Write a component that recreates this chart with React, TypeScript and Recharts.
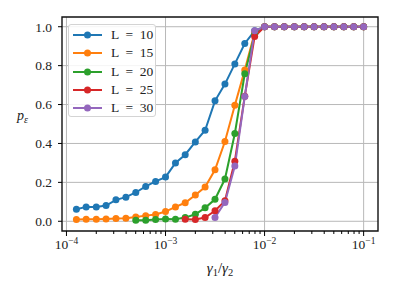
import React from 'react';
import { LineChart, Line, XAxis, YAxis, CartesianGrid, ReferenceArea, Legend } from 'recharts';

// gamma1/gamma2 sample points (log-spaced, 0.1 decade)
const RATIOS = [
  1.26e-4, 1.58e-4, 2.0e-4, 2.51e-4, 3.16e-4, 3.98e-4, 5.01e-4, 6.31e-4, 7.94e-4, 1.0e-3,
  1.26e-3, 1.58e-3, 2.0e-3, 2.51e-3, 3.16e-3, 3.98e-3, 5.01e-3, 6.31e-3, 7.94e-3, 1.0e-2,
  1.26e-2, 1.58e-2, 2.0e-2, 2.51e-2, 3.16e-2, 3.98e-2, 5.01e-2, 6.31e-2, 7.94e-2, 1.0e-1,
];

const L10 = [
  0.062, 0.074, 0.074, 0.081, 0.11, 0.124, 0.148, 0.179, 0.205, 0.227,
  0.3, 0.342, 0.408, 0.468, 0.619, 0.705, 0.809, 0.914, 0.979, 1,
  1, 1, 1, 1, 1, 1, 1, 1, 1, 1,
];
const L15 = [
  0.009, 0.01, 0.01, 0.012, 0.014, 0.015, 0.022, 0.029, 0.035, 0.05,
  0.074, 0.095, 0.135, 0.176, 0.265, 0.41, 0.596, 0.777, 0.97, 1,
  1, 1, 1, 1, 1, 1, 1, 1, 1, 1,
];
const L20 = [
  null, null, null, null, null, null, 0.005, 0.005, 0.009, 0.012,
  0.01, 0.019, 0.036, 0.069, 0.113, 0.217, 0.451, 0.758, 0.96, 1,
  1, 1, 1, 1, 1, 1, 1, 1, 1, 1,
];
const L25 = [
  null, null, null, null, null, null, null, null, null, null,
  null, 0.01, 0.009, 0.019, 0.054, 0.105, 0.309, 0.643, 0.95, 1,
  1, 1, 1, 1, 1, 1, 1, 1, 1, 1,
];
const L30 = [
  null, null, null, null, null, null, null, null, null, null,
  null, null, null, null, 0.02, 0.097, 0.284, 0.641, 0.979, 1,
  1, 1, 1, 1, 1, 1, 1, 1, 1, 1,
];

const SERIES = [
  { key: 'L10', name: 'L = 10', color: '#1f77b4', values: L10 },
  { key: 'L15', name: 'L = 15', color: '#ff7f0e', values: L15 },
  { key: 'L20', name: 'L = 20', color: '#2ca02c', values: L20 },
  { key: 'L25', name: 'L = 25', color: '#d62728', values: L25 },
  { key: 'L30', name: 'L = 30', color: '#9467bd', values: L30 },
];

const MAJOR_X = [1e-4, 1e-3, 1e-2, 1e-1];
const EXPONENTS = ['−4', '−3', '−2', '−1'];
const MINOR_X = [
  2e-4, 3e-4, 4e-4, 5e-4, 6e-4, 7e-4, 8e-4, 9e-4,
  2e-3, 3e-3, 4e-3, 5e-3, 6e-3, 7e-3, 8e-3, 9e-3,
  2e-2, 3e-2, 4e-2, 5e-2, 6e-2, 7e-2, 8e-2, 9e-2,
];
const Y_TICKS = [0, 0.2, 0.4, 0.6, 0.8, 1.0];

const X_DOMAIN = [9.016e-5, 0.13964];
const Y_DOMAIN = [-0.05, 1.05];

const FONT = '"Liberation Serif", "DejaVu Serif", serif';

const data = RATIOS.map((x, i) => {
  const row: Record<string, number | null> = { x };
  SERIES.forEach(s => { row[s.key] = s.values[i]; });
  return row;
});

const XTick = (props: any) => {
  const { x, y, payload } = props;
  const idx = MAJOR_X.indexOf(payload.value);
  const major = idx >= 0;
  return (
    <g>
      <line x1={x} x2={x} y1={y} y2={y + (major ? 5 : 3)} stroke="#000" strokeWidth={1} />
      {major && (
        <text x={x} y={y + 18} textAnchor="middle" fontFamily={FONT} fontSize={13.5} fill="#222">
          <tspan>10</tspan>
          <tspan dy={-5} fontSize={9.5}>{EXPONENTS[idx]}</tspan>
        </text>
      )}
    </g>
  );
};

const LegendBox = () => (
  <div
    style={{
      width: 88,
      height: 93,
      boxSizing: 'border-box',
      border: '1px solid #d4d4d4',
      borderRadius: 3,
      background: 'rgba(255,255,255,0.85)',
      paddingTop: 1,
    }}
  >
    {SERIES.map(s => (
      <div key={s.key} style={{ height: 18.3, position: 'relative' }}>
        <svg width={34} height={18} style={{ position: 'absolute', left: 0, top: 0 }}>
          <line x1={4} x2={33} y1={9} y2={9} stroke={s.color} strokeWidth={2} />
          <circle cx={18.5} cy={9} r={3.5} fill={s.color} />
        </svg>
        <span
          style={{
            position: 'absolute',
            left: 42,
            top: 0,
            lineHeight: '18px',
            fontFamily: FONT,
            fontSize: 13.5,
            color: '#222',
            whiteSpace: 'pre',
          }}
        >
          {s.name.replace(' = ', '  =  ')}
        </span>
      </div>
    ))}
  </div>
);

const App: React.FC = () => (
  <div style={{ width: 396, height: 294, position: 'relative', background: '#fff' }}>
    <style>{'body{margin:0}'}</style>
    <LineChart width={396} height={294} data={data} margin={{ top: 17, right: 18, left: 0, bottom: 0 }}>
      <CartesianGrid stroke="#b8b8b8" strokeWidth={1} verticalValues={MAJOR_X} horizontalValues={Y_TICKS} />
      <XAxis
        dataKey="x"
        type="number"
        scale="log"
        domain={X_DOMAIN}
        allowDataOverflow
        ticks={[...MAJOR_X, ...MINOR_X].sort((a, b) => a - b)}
        interval={0}
        height={63}
        tickSize={0}
        tickMargin={0}
        tickLine={false}
        axisLine={false}
        tick={<XTick />}
      />
      <YAxis
        type="number"
        domain={Y_DOMAIN}
        allowDataOverflow
        ticks={Y_TICKS}
        interval={0}
        width={62}
        tickSize={4}
        tickMargin={6}
        axisLine={false}
        tickLine={{ stroke: '#000', strokeWidth: 1 }}
        tickFormatter={(v: number) => v.toFixed(1)}
        tick={{ fontFamily: FONT, fontSize: 13.5, fill: '#222' }}
      />
      <ReferenceArea
        x1={X_DOMAIN[0]}
        x2={X_DOMAIN[1]}
        y1={Y_DOMAIN[0]}
        y2={Y_DOMAIN[1]}
        fill="none"
        stroke="#111"
        strokeWidth={1.4}
        ifOverflow="visible"
      />
      {SERIES.map(s => (
        <Line
          key={s.key}
          dataKey={s.key}
          name={s.name}
          stroke={s.color}
          strokeWidth={2}
          dot={{ r: 3.5, fill: s.color, stroke: s.color, strokeWidth: 0 }}
          activeDot={false}
          isAnimationActive={false}
        />
      ))}
      <Legend
        layout="vertical"
        align="center"
        verticalAlign="middle"
        wrapperStyle={{ left: 68, top: 24, width: 88 }}
        content={() => <LegendBox />}
      />
    </LineChart>
    <svg width={396} height={294} style={{ position: 'absolute', left: 0, top: 0, pointerEvents: 'none' }}>
      <text x={17} y={120} fontFamily={FONT} fontSize={14} fill="#222">
        <tspan fontStyle="italic">p</tspan>
        <tspan dy={3} fontSize={10} fontStyle="italic">ε</tspan>
      </text>
      <text x={220} y={273} textAnchor="middle" fontFamily={FONT} fontSize={15} fill="#222">
        <tspan fontStyle="italic">γ</tspan>
        <tspan dy={3} fontSize={10.5}>1</tspan>
        <tspan dy={-3}>/</tspan>
        <tspan fontStyle="italic">γ</tspan>
        <tspan dy={3} fontSize={10.5}>2</tspan>
      </text>
    </svg>
  </div>
);

export default App;
